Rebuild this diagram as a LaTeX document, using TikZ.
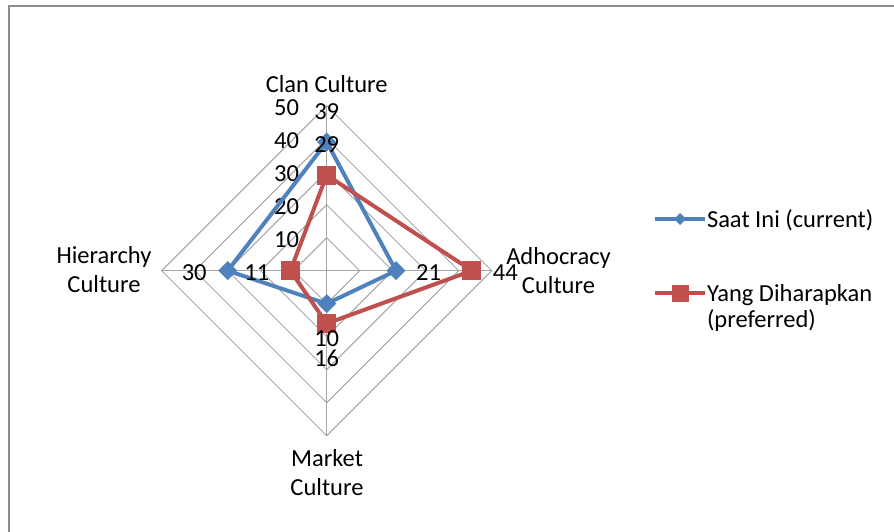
\documentclass[tikz,border=0pt]{standalone}
\usepackage{fontspec}
\setmainfont{Carlito}
\usetikzlibrary{shapes.geometric}
\definecolor{curblue}{HTML}{4F81BD}
\definecolor{prefred}{HTML}{C0504D}
\definecolor{gridgray}{HTML}{A6A6A6}
\definecolor{framegray}{HTML}{8C8C8C}
\begin{document}
\begin{tikzpicture}[x=1pt,y=-1pt,
  font=\fontsize{24.5}{29}\selectfont,
  every node/.style={inner sep=0pt, outer sep=0pt},
  gridline/.style={draw=gridgray, line width=1pt},
  curline/.style={draw=curblue, line width=4pt, line join=round},
  prefline/.style={draw=prefred, line width=4pt, line join=round},
  curmark/.style={diamond, aspect=1, fill=curblue, minimum width=19pt, minimum height=19pt},
  prefmark/.style={rectangle, fill=prefred, minimum width=19pt, minimum height=19pt},
  num/.style={anchor=center},
  cat/.style={align=center}]
\useasboundingbox (0,0) rectangle (894,532);

% chart area border
\draw[framegray, line width=2pt] (8.5,532) -- (8.5,6) -- (894,6);

% radar grid, 5 rings of 10 units each
\begin{scope}[shift={(326.7pt,-270.7pt)}, x=3.3pt, y=-3.3pt]
  \coordinate (O) at (0,0);
  \foreach \r in {10,20,30,40,50}
    \draw[gridline] (0,-\r) -- (\r,0) -- (0,\r) -- (-\r,0) -- cycle;
  \draw[gridline] (0,-50) -- (0,50) (-50,0) -- (50,0);
  % Saat Ini (current)
  \coordinate (c1) at (0,-39);
  \coordinate (c2) at (21,0);
  \coordinate (c3) at (0,10);
  \coordinate (c4) at (-30,0);
  % Yang Diharapkan (preferred)
  \coordinate (p1) at (0,-29);
  \coordinate (p2) at (44,0);
  \coordinate (p3) at (0,16);
  \coordinate (p4) at (-11,0);
\end{scope}

% radial axis labels
\foreach \v in {0,10,20,30,40,50}
  \node[anchor=east] (tick\v) at (299,{272.7-3.3*\v}) {\v};

% series
\draw[curline] (c1) -- (c2) -- (c3) -- (c4) -- cycle;
\foreach \i in {1,2,3,4} \node[curmark] (cm\i) at (c\i) {};
\draw[prefline] (p1) -- (p2) -- (p3) -- (p4) -- cycle;
\foreach \i in {1,2,3,4} \node[prefmark] (pm\i) at (p\i) {};

% data labels
\node[num] (lc1) at ([yshift=30pt]c1) {39};
\node[num] (lp1) at ([yshift=30pt]p1) {29};
\node[num] (lc2) at ([xshift=32.5pt,yshift=-2pt]c2) {21};
\node[num] (lp2) at ([xshift=33.5pt,yshift=-2pt]p2) {44};
\node[num] (lc3) at ([yshift=-35pt]c3) {10};
\node[num] (lp3) at ([yshift=-35pt]p3) {16};
\node[num] (lc4) at ([xshift=-33.5pt,yshift=-2pt]c4) {30};
\node[num] (lp4) at ([xshift=-33.5pt,yshift=-2pt]p4) {11};

% category labels
\node[anchor=base] (clan) at (326.7,92.3) {Clan Culture};
\node[cat] (adho) at (558.5,270.7) {Adhocracy\\Culture};
\node[cat] (hier) at (104,270) {Hierarchy\\Culture};
\node[cat] (mark) at (327,472.3) {Market\\Culture};

% legend
\coordinate (la1) at (655,219);
\coordinate (lb1) at (705,219);
\coordinate (lm1) at (680,219);
\draw[curline] (la1) -- (lb1);
\node[curmark, minimum width=12pt, minimum height=12pt] (lk1) at (lm1) {};
\node[anchor=base west] (lt1) at (707,227) {Saat Ini (current)};

\coordinate (la2) at (655,293);
\coordinate (lb2) at (705,293);
\coordinate (lm2) at (680,293);
\draw[prefline] (la2) -- (lb2);
\node[prefmark, minimum width=17pt, minimum height=17pt] (lk2) at (lm2) {};
\node[anchor=west, align=left, font=\fontsize{24.5}{26.5}\selectfont] (lt2) at (707,307.8) {Yang Diharapkan\\(preferred)};
\end{tikzpicture}
\end{document}
